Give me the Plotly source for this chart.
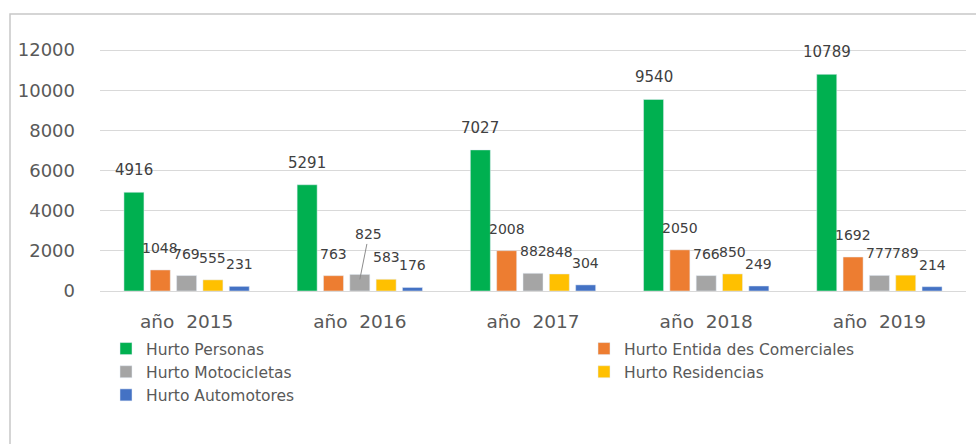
import plotly.graph_objects as go

# Robos registrados por tipo y año
years = ["año\u00a0\u00a02015", "año\u00a0\u00a02016", "año\u00a0\u00a02017",
         "año\u00a0\u00a02018", "año\u00a0\u00a02019"]

hurto_personas = [4916, 5291, 7027, 9540, 10789]
hurto_entidades = [1048, 763, 2008, 2050, 1692]
hurto_motocicletas = [769, 825, 882, 766, 777]
hurto_residencias = [555, 583, 848, 850, 789]
hurto_automotores = [231, 176, 304, 249, 214]

series = [
    ("Hurto Personas", hurto_personas, "#00b050", "legend"),
    ("Hurto Entida des Comerciales", hurto_entidades, "#ed7d31", "legend2"),
    ("Hurto Motocicletas", hurto_motocicletas, "#a5a5a5", "legend"),
    ("Hurto Residencias", hurto_residencias, "#ffc000", "legend2"),
    ("Hurto Automotores", hurto_automotores, "#4472c4", "legend"),
]

W, H = 976, 444
M_L, M_R, M_T, M_B = 100, 10, 40, 153
BARGAP, GROUPGAP = 0.24, 0.24
FONT = "DejaVu Sans"

plot_w = W - M_L - M_R
slot = plot_w / len(years) * (1 - BARGAP) / len(series)

fig = go.Figure()
for name, vals, color, leg in series:
    fig.add_trace(go.Bar(
        x=years, y=vals, name=name, marker_color=color, legend=leg,
    ))

# etiquetas de valor sobre cada barra
annotations = []
for k, (name, vals, color, leg) in enumerate(series):
    for j, v in enumerate(vals):
        size = 15 if k == 0 else 14
        font = dict(family=FONT, size=size, color="#404040")
        if name == "Hurto Motocicletas" and j == 1:
            # etiqueta desplazada con línea guía
            annotations.append(dict(
                x=years[j], y=v, xshift=(k - 2) * slot, yshift=-5,
                text=str(v), showarrow=True, arrowhead=0, arrowwidth=1,
                arrowcolor="#8c8c8c", ax=9, ay=-45, standoff=0, font=font,
            ))
        else:
            annotations.append(dict(
                x=years[j], y=v, xshift=(k - 2) * slot, yshift=22,
                text=str(v), showarrow=False, font=font,
            ))


def px_x(p):
    return (p - M_L) / plot_w


def px_y(p):
    return (H - M_B - p) / (H - M_T - M_B)


legend_font = dict(family=FONT, size=15.5, color="#595959")

fig.update_layout(
    width=W, height=H, autosize=False,
    margin=dict(l=M_L, r=M_R, t=M_T, b=M_B, autoexpand=False),
    paper_bgcolor="white", plot_bgcolor="white",
    barmode="group", bargap=BARGAP, bargroupgap=GROUPGAP,
    font=dict(family=FONT, color="#595959"),
    annotations=annotations,
    shapes=[dict(
        type="rect", xref="paper", yref="paper",
        x0=px_x(10), x1=px_x(995), y0=px_y(470), y1=px_y(14),
        line=dict(color="#c8c8c8", width=1.5), fillcolor="rgba(0,0,0,0)",
        layer="below",
    )],
    xaxis=dict(
        showgrid=False, showline=True, linecolor="#d9d9d9", linewidth=1,
        tickfont=dict(family=FONT, size=18.5, color="#595959"),
        ticklabelstandoff=14, fixedrange=True,
    ),
    yaxis=dict(
        range=[0, 12500], tickvals=[0, 2000, 4000, 6000, 8000, 10000, 12000],
        tickformat="d",
        showgrid=True, gridcolor="#d9d9d9", gridwidth=1,
        zeroline=True, zerolinecolor="#d9d9d9", zerolinewidth=1,
        tickfont=dict(family=FONT, size=18, color="#595959"),
        ticklabelstandoff=24, fixedrange=True,
    ),
    legend=dict(
        orientation="v", x=px_x(106), xanchor="left",
        y=px_y(332), yanchor="top", font=legend_font,
        bgcolor="rgba(0,0,0,0)",
    ),
    legend2=dict(
        orientation="v", x=px_x(584), xanchor="left",
        y=px_y(332), yanchor="top", font=legend_font,
        bgcolor="rgba(0,0,0,0)",
    ),
)

fig.write_html("out.html", config={"displayModeBar": False})
